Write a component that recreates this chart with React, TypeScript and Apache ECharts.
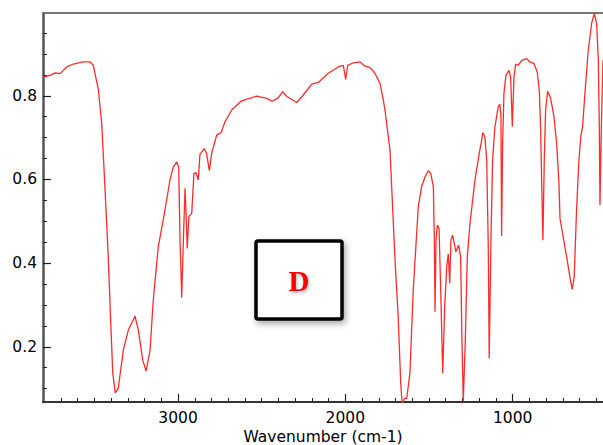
import React, { useEffect, useRef } from "react";
import * as echarts from "echarts";

// Wavenumber (cm-1), descending, and transmittance values
const wavenumbers = [
  3807, 3765, 3735, 3705, 3665, 3626, 3566, 3526, 3506, 3476, 3456, 3436, 3417, 3402, 3390, 3375,
  3357, 3327, 3297, 3257, 3237, 3211, 3191, 3167, 3148, 3118, 3078, 3048, 3028, 3008, 2996, 2988,
  2978, 2968, 2958, 2952, 2945, 2935, 2918, 2905, 2893, 2879, 2869, 2843, 2829, 2813, 2799, 2769,
  2743, 2719, 2679, 2620, 2530, 2470, 2437, 2401, 2375, 2351, 2291, 2251, 2201, 2158, 2102, 2042,
  2012, 1998, 1986, 1952, 1913, 1883, 1853, 1823, 1793, 1773, 1763, 1733, 1703, 1684, 1669, 1660,
  1648, 1633, 1614, 1594, 1564, 1544, 1524, 1504, 1490, 1474, 1468, 1464, 1458, 1450, 1440, 1430,
  1418, 1406, 1394, 1385, 1376, 1369, 1359, 1339, 1323, 1311, 1303, 1295, 1283, 1271, 1255, 1225,
  1200, 1185, 1179, 1166, 1155, 1146, 1140, 1130, 1120, 1106, 1086, 1076, 1070, 1066, 1060, 1052,
  1040, 1022, 1012, 1002, 992, 982, 967, 946, 916, 897, 873, 853, 841, 833, 827, 819,
  811, 803, 791, 773, 753, 737, 723, 717, 698, 674, 658, 644, 632, 618, 604, 592,
  582, 568, 548, 528, 512, 498, 488, 482, 478, 470, 460,
];
const transmittance = [
  0.844, 0.849, 0.855, 0.853, 0.869, 0.876, 0.881, 0.881, 0.873, 0.814, 0.734, 0.575, 0.415, 0.256, 0.137, 0.09,
  0.101, 0.192, 0.24, 0.273, 0.24, 0.168, 0.142, 0.192, 0.312, 0.439, 0.527, 0.599, 0.63, 0.642, 0.63, 0.455,
  0.318, 0.455, 0.579, 0.52, 0.435, 0.511, 0.519, 0.615, 0.616, 0.599, 0.66, 0.674, 0.662, 0.621, 0.662, 0.706,
  0.712, 0.738, 0.766, 0.788, 0.799, 0.794, 0.787, 0.795, 0.81, 0.799, 0.784, 0.802, 0.828, 0.833, 0.854, 0.869,
  0.873, 0.839, 0.873, 0.879, 0.881, 0.871, 0.868, 0.854, 0.83, 0.79, 0.766, 0.67, 0.407, 0.272, 0.113, 0.06,
  0.076, 0.077, 0.137, 0.336, 0.535, 0.583, 0.606, 0.621, 0.615, 0.583, 0.455, 0.284, 0.455, 0.491, 0.483, 0.336,
  0.137, 0.296, 0.391, 0.422, 0.352, 0.455, 0.467, 0.427, 0.443, 0.415, 0.216, 0.07, 0.216, 0.415, 0.495, 0.599,
  0.662, 0.694, 0.712, 0.702, 0.646, 0.447, 0.172, 0.447, 0.646, 0.726, 0.774, 0.78, 0.75, 0.465, 0.686, 0.806,
  0.849, 0.861, 0.845, 0.726, 0.845, 0.876, 0.873, 0.885, 0.889, 0.881, 0.877, 0.857, 0.814, 0.726, 0.606, 0.455,
  0.646, 0.766, 0.811, 0.794, 0.75, 0.686, 0.59, 0.507, 0.463, 0.407, 0.367, 0.337, 0.367, 0.527, 0.646, 0.706,
  0.726, 0.806, 0.909, 0.973, 0.997, 0.973, 0.885, 0.726, 0.539, 0.726, 0.885,
];

const xMajorTicks = [1000, 2000, 3000];
const xMinorTicks = [
  500, 600, 700, 800, 900, 1100, 1200, 1300, 1400, 1500, 1600, 1700, 1800, 1900,
  2100, 2200, 2300, 2400, 2500, 2600, 2700, 2800, 2900, 3100, 3200, 3300, 3400, 3500, 3600, 3700,
];
const yMajorTicks = [0.2, 0.4, 0.6, 0.8];
const yMinorTicks = [0.1, 0.15, 0.25, 0.3, 0.35, 0.45, 0.5, 0.55, 0.65, 0.7, 0.75, 0.85, 0.9, 0.95];

const xAxisName = "Wavenumber (cm-1)";
const boxLabel = "D";

const X_MIN = 460;
const X_MAX = 3807;
const Y_MIN = 0.068;
const Y_MAX = 0.998;

const FONT = "'DejaVu Sans', sans-serif";
const AXIS_COLOR = "#555";

export default function App() {
  const ref = useRef<HTMLDivElement>(null);

  useEffect(() => {
    if (!ref.current) return;
    const chart = echarts.init(ref.current, undefined, { renderer: "svg" });
    const data = wavenumbers.map((w, i) => [w, transmittance[i]]);

    const baseX = {
      type: "value" as const,
      min: X_MIN,
      max: X_MAX,
      inverse: true,
      gridIndex: 0,
      splitLine: { show: false },
    };
    const baseY = {
      type: "value" as const,
      min: Y_MIN,
      max: Y_MAX,
      gridIndex: 0,
      position: "left" as const,
      splitLine: { show: false },
    };

    chart.setOption({
      animation: false,
      backgroundColor: "#fff",
      grid: {
        left: 43,
        right: 0,
        top: 13,
        bottom: 43,
        containLabel: false,
        outerBoundsMode: "none",
      },
      xAxis: [
        {
          ...baseX,
          position: "bottom",
          axisLine: { show: true, lineStyle: { color: "#333", width: 2 } },
          axisTick: {
            show: true,
            inside: true,
            length: 8,
            customValues: xMajorTicks,
            lineStyle: { color: "#222", width: 1.2 },
          },
          axisLabel: {
            show: true,
            customValues: xMajorTicks,
            margin: 8,
            fontSize: 15.5,
            fontFamily: FONT,
            color: "#000",
            formatter: (v: number) => String(Math.round(v)),
          },
          name: xAxisName,
          nameLocation: "middle",
          nameGap: 27,
          nameMoveOverlap: false,
          nameTextStyle: {
            fontSize: 15.5,
            fontFamily: FONT,
            color: "#000",
            verticalAlign: "top",
            lineHeight: 16,
          },
        },
        {
          ...baseX,
          position: "bottom",
          axisLine: { show: false },
          axisTick: {
            show: true,
            inside: true,
            length: 4,
            customValues: xMinorTicks,
            lineStyle: { color: "#222", width: 1 },
          },
          axisLabel: { show: false },
        },
        {
          ...baseX,
          position: "top",
          axisLine: { show: true, lineStyle: { color: "#777", width: 2 } },
          axisTick: { show: false },
          axisLabel: { show: false },
        },
      ],
      yAxis: [
        {
          ...baseY,
          axisLine: { show: true, lineStyle: { color: AXIS_COLOR, width: 2.5 } },
          axisTick: {
            show: true,
            inside: true,
            length: 8,
            customValues: yMajorTicks,
            lineStyle: { color: "#222", width: 1.2 },
          },
          axisLabel: {
            show: true,
            customValues: yMajorTicks,
            margin: 6,
            fontSize: 15.5,
            fontFamily: FONT,
            color: "#000",
            formatter: (v: number) => v.toFixed(1),
          },
        },
        {
          ...baseY,
          axisLine: { show: false },
          axisTick: {
            show: true,
            inside: true,
            length: 4,
            customValues: yMinorTicks,
            lineStyle: { color: "#222", width: 1 },
          },
          axisLabel: { show: false },
        },
      ],
      series: [
        {
          type: "line",
          xAxisIndex: 0,
          yAxisIndex: 0,
          data,
          showSymbol: false,
          symbol: "none",
          clip: true,
          lineStyle: { color: "#ff2a2a", width: 1.3 },
        },
      ],
      graphic: [
        {
          type: "group",
          children: [
            {
              type: "rect",
              shape: { x: 256, y: 241, width: 86, height: 78, r: 2 },
              style: {
                fill: "#fff",
                stroke: "#000",
                lineWidth: 3.5,
                shadowBlur: 6,
                shadowColor: "rgba(0,0,0,0.35)",
                shadowOffsetX: 2,
                shadowOffsetY: 3,
              },
            },
            {
              type: "text",
              style: {
                text: boxLabel,
                x: 299,
                y: 281,
                align: "center",
                verticalAlign: "middle",
                fill: "#ff0000",
                font: "bold 29px 'Liberation Serif', serif",
                textShadowBlur: 3,
                textShadowColor: "rgba(0,0,0,0.3)",
                textShadowOffsetX: 1,
                textShadowOffsetY: 2,
              },
            },
          ],
        },
      ],
    });

    return () => chart.dispose();
  }, []);

  return (
    <div
      ref={ref}
      style={{ position: "fixed", left: 0, top: 0, width: 603, height: 445 }}
    />
  );
}
